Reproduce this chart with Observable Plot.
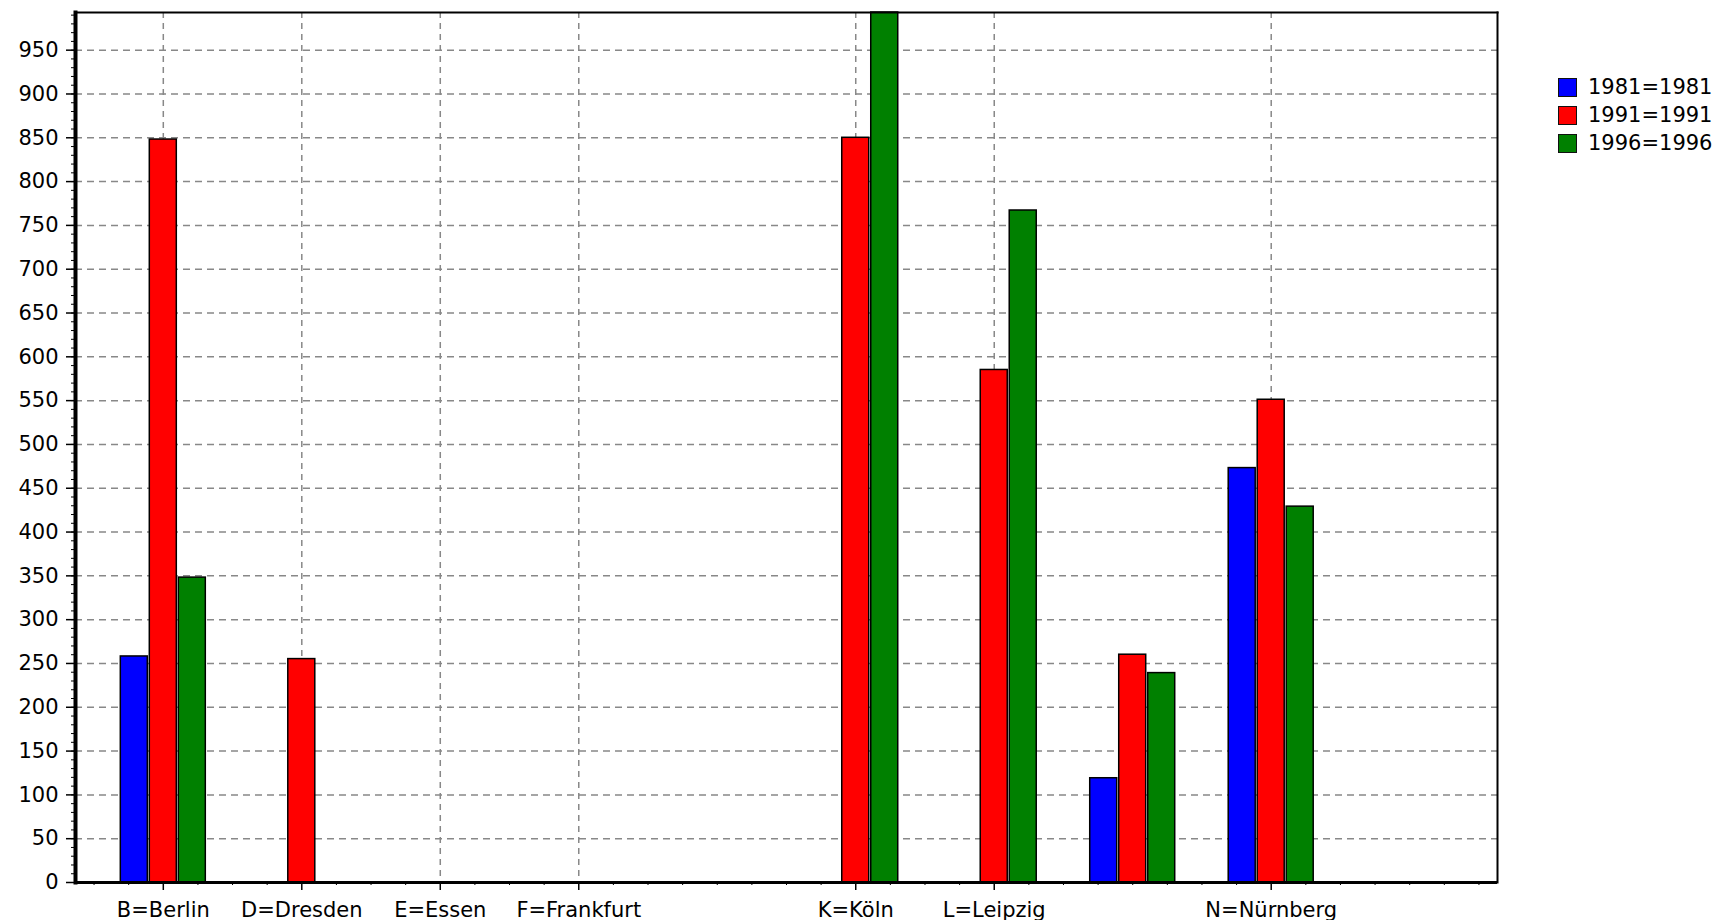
<!DOCTYPE html>
<html>
<head>
<meta charset="utf-8">
<script src="https://cdn.jsdelivr.net/npm/d3@7"></script>
<script src="https://cdn.jsdelivr.net/npm/@observablehq/plot@0.6"></script>
<style>
  html, body { margin: 0; padding: 0; background: #fff; }
  #wrap { position: relative; width: 1729px; height: 920px; font-family: "DejaVu Sans", sans-serif; }
  #legend { position: absolute; left: 1558px; top: 73px; font-size: 21px; color: #000; }
  .row { display: flex; align-items: center; height: 28px; white-space: nowrap; }
  .sw { width: 19px; height: 19px; box-sizing: border-box; border: 1px solid #111; margin-right: 11px; }
</style>
</head>
<body>
<div id="wrap"><div id="chart"></div><div id="legend"></div></div>
<script>
// ---- data ----
const categories = ["B", "D", "E", "F", "H", "K", "L", "M", "N", "S"];
const categoryLabels = ["B=Berlin", "D=Dresden", "E=Essen", "F=Frankfurt", "", "K=Köln", "L=Leipzig", "", "N=Nürnberg", ""];
const years = ["1981", "1991", "1996"];
const legendLabels = ["1981=1981", "1991=1991", "1996=1996"];
const yearColors = ["#0000ff", "#ff0000", "#008000"];
const values1981 = [258, null, null, null, null, null, null, 119, 473, null];
const values1991 = [848, 255, null, null, null, 850, 585, 260, 551, null];
const values1996 = [348, null, null, null, null, 993, 767, 239, 429, null];
const yTicks = [0, 50, 100, 150, 200, 250, 300, 350, 400, 450, 500, 550, 600, 650, 700, 750, 800, 850, 900, 950];

// ---- layout ----
const W = 1729, H = 920, mL = 75, mR = 232, mT = 12, mB = 38;
const padOuter = 0.134;
const step = (W - mL - mR) / (categories.length + 2 * padOuter);
const barW = 27, barPitch = 29;
const inset = (step - barW) / 2;

const series = [values1981, values1991, values1996];
const rows = [];
years.forEach((yr, s) => series[s].forEach((v, i) => {
  if (v != null) rows.push({city: categories[i], year: yr, value: v});
}));
const yMax = d3.max(rows, d => d.value);
const labelOf = new Map(categories.map((c, i) => [c, categoryLabels[i]]));
const labeled = categories.filter((c, i) => categoryLabels[i] !== "");
const unlabeled = categories.filter((c, i) => categoryLabels[i] === "");

const bars = years.map((yr, s) => Plot.barY(rows.filter(r => r.year === yr), {
  x: "city", y: "value", fill: "year", stroke: "#000", strokeWidth: 1.5,
  insetLeft: inset, insetRight: inset, dx: (s - 1) * barPitch
}));

const minorX = [-0.5, -0.25, 0.25].map(f => Plot.axisX(categories, {tickSize: 3, tickFormat: () => "", label: null, dx: f * step}));
minorX.push(Plot.axisX([categories[categories.length - 1]], {tickSize: 3, tickFormat: () => "", label: null, dx: 0.5 * step}));

const chart = Plot.plot({
  width: W, height: H,
  marginLeft: mL, marginRight: mR, marginTop: mT, marginBottom: mB,
  style: {fontFamily: "DejaVu Sans", fontSize: "21px", color: "#000", background: "#fff", overflow: "visible"},
  x: {type: "band", domain: categories, paddingInner: 0, paddingOuter: padOuter, align: 0.5, round: false, label: null},
  y: {domain: [0, yMax], label: null},
  color: {domain: years, range: yearColors},
  marks: [
    Plot.ruleY(yTicks.filter(v => v > 0), {stroke: "#888", strokeWidth: 1.5, strokeDasharray: "7,5"}),
    Plot.ruleX(labeled, {stroke: "#888", strokeWidth: 1.5, strokeDasharray: "6,5"}),
    ...bars,
    Plot.frame({anchor: "top", strokeWidth: 2}),
    Plot.frame({anchor: "right", strokeWidth: 2}),
    Plot.frame({anchor: "left", strokeWidth: 4}),
    Plot.ruleY([0], {strokeWidth: 3}),
    Plot.axisY(yTicks, {tickSize: 9, tickPadding: 8, tickFormat: d => String(d), strokeWidth: 1.5, label: null}),
    Plot.axisY(d3.range(0, yMax, 10), {tickSize: 4, tickFormat: () => "", label: null}),
    Plot.axisX(labeled, {tickSize: 8, tickPadding: 12, tickFormat: c => labelOf.get(c), strokeWidth: 1.5, label: null}),
    Plot.axisX(unlabeled, {tickSize: 3, tickFormat: () => "", label: null}),
    ...minorX
  ]
});
document.getElementById("chart").appendChild(chart);

// ---- legend ----
const legend = d3.select("#legend");
years.forEach((yr, i) => {
  const row = legend.append("div").attr("class", "row");
  row.append("div").attr("class", "sw").style("background", yearColors[i]);
  row.append("span").text(legendLabels[i]);
});
</script>
</body>
</html>
